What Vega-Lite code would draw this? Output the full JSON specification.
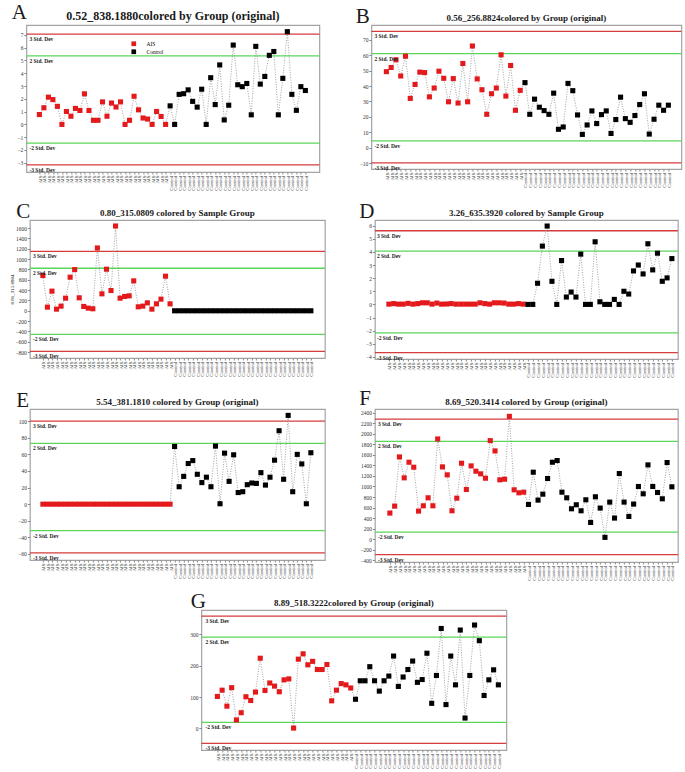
{
"$schema": "https://vega.github.io/schema/vega-lite/v6.json",
"padding": {"left": 5, "top": 2, "right": 0, "bottom": 0},
"spacing": 10,
"center": true,
"vconcat": [
{"hconcat": [
 {"title": {"text": "A", "anchor": "start", "fontSize": 21, "fontWeight": "normal", "offset": -14, "dx": 6},
  "vconcat": [{"width": 293, "height": 147,
   "title": {"text": "0.52_838.1880colored by Group (original)", "fontSize": 12},
   "layer": [
    {"data": {"name": "sdA"}, "mark": {"type": "rule", "strokeWidth": 1.3}, "encoding": {"y": {"field": "v", "type": "quantitative"}, "stroke": {"field": "level", "type": "nominal", "scale": {"domain": ["3","2","-2","-3"], "range": ["#d63c3c","#5ad65a","#5ad65a","#d63c3c"]}, "legend": null}}},
    {"data": {"name": "A"}, "mark": {"type": "line", "strokeDash": [1, 1.5], "strokeWidth": 0.8, "color": "#8a8a8a"}, "encoding": {"x": {"field": "s", "type": "ordinal", "sort": null, "scale": {"type": "point", "padding": 0, "range": [13, 279]}, "axis": {"title": null, "labelExpr": "split(datum.value, ' ')[0]"}}, "y": {"field": "v", "type": "quantitative", "scale": {"domain": [-3.72, 7.77], "nice": false, "zero": false}, "axis": {"title": null, "labelOverlap": false, "tickCount": 40, "values": [-3,-2,-1,0,1,2,3,4,5,6,7]}}}},
    {"data": {"name": "A"}, "mark": {"type": "square", "size": 26, "opacity": 1}, "encoding": {"x": {"field": "s", "type": "ordinal", "sort": null}, "y": {"field": "v", "type": "quantitative"}, "color": {"field": "g", "type": "nominal", "scale": {"domain": ["AIS","Control"], "range": ["#e4191c","#000000"]}, "legend": {"title": null, "orient": "none", "legendX": 105, "legendY": 16}}}},
    {"data": {"name": "sdA"}, "mark": {"type": "text", "align": "left", "baseline": "top", "dx": -10, "dy": 3, "fontSize": 5.5, "fontWeight": "bold", "font": "Liberation Serif", "color": "#222"}, "encoding": {"x": {"datum": "AIS 1", "type": "ordinal"}, "y": {"field": "v", "type": "quantitative"}, "text": {"field": "label"}}}
   ]}]},
 {"title": {"text": "B", "anchor": "start", "fontSize": 21, "fontWeight": "normal", "offset": -14, "dx": 5},
  "vconcat": [{"width": 310, "height": 144,
   "title": {"text": "0.56_256.8824colored by Group (original)", "fontSize": 9},
   "layer": [
    {"data": {"name": "sdB"}, "mark": {"type": "rule", "strokeWidth": 1.3}, "encoding": {"y": {"field": "v", "type": "quantitative"}, "stroke": {"field": "level", "type": "nominal", "scale": {"domain": ["3","2","-2","-3"], "range": ["#d63c3c","#5ad65a","#5ad65a","#d63c3c"]}, "legend": null}}},
    {"data": {"name": "B"}, "mark": {"type": "line", "strokeDash": [1, 1.5], "strokeWidth": 0.8, "color": "#8a8a8a"}, "encoding": {"x": {"field": "s", "type": "ordinal", "sort": null, "scale": {"type": "point", "padding": 0, "range": [15, 297]}, "axis": {"title": null, "labelExpr": "split(datum.value, ' ')[0]"}}, "y": {"field": "v", "type": "quantitative", "scale": {"domain": [-13.7, 79.5], "nice": false, "zero": false}, "axis": {"title": null, "labelOverlap": false, "tickCount": 40, "values": [-10,0,10,20,30,40,50,60,70]}}}},
    {"data": {"name": "B"}, "mark": {"type": "square", "size": 26, "opacity": 1}, "encoding": {"x": {"field": "s", "type": "ordinal", "sort": null}, "y": {"field": "v", "type": "quantitative"}, "color": {"field": "g", "type": "nominal", "scale": {"domain": ["AIS","Control"], "range": ["#e4191c","#000000"]}, "legend": {"title": null, "orient": "none", "legendX": 251, "legendY": 12}}}},
    {"data": {"name": "sdB"}, "mark": {"type": "text", "align": "left", "baseline": "top", "dx": -12, "dy": 3, "fontSize": 5.5, "fontWeight": "bold", "font": "Liberation Serif", "color": "#222"}, "encoding": {"x": {"datum": "AIS 1", "type": "ordinal"}, "y": {"field": "v", "type": "quantitative"}, "text": {"field": "label"}}}
   ]}]}
], "spacing": 29},
{"hconcat": [
 {"title": {"text": "C", "anchor": "start", "fontSize": 21, "fontWeight": "normal", "offset": -14, "dx": 7},
  "vconcat": [{"width": 295, "height": 138,
   "title": {"text": "0.80_315.0809 colored by Sample Group", "fontSize": 9},
   "layer": [
    {"data": {"name": "sdC"}, "mark": {"type": "rule", "strokeWidth": 1.3}, "encoding": {"y": {"field": "v", "type": "quantitative"}, "stroke": {"field": "level", "type": "nominal", "scale": {"domain": ["3","2","-2","-3"], "range": ["#d63c3c","#5ad65a","#5ad65a","#d63c3c"]}, "legend": null}}},
    {"data": {"name": "C"}, "mark": {"type": "line", "strokeDash": [1, 1.5], "strokeWidth": 0.8, "color": "#8a8a8a"}, "encoding": {"x": {"field": "s", "type": "ordinal", "sort": null, "scale": {"type": "point", "padding": 0, "range": [13, 281]}, "axis": {"title": null, "labelExpr": "split(datum.value, ' ')[0]"}}, "y": {"field": "v", "type": "quantitative", "scale": {"domain": [-913, 1756], "nice": false, "zero": false}, "axis": {"title": "0.81_315.0804", "labelOverlap": false, "tickCount": 40, "titleFontSize": 5, "titleFont": "Liberation Serif", "titleFontWeight": "normal", "titlePadding": 1, "minExtent": 14, "maxExtent": 14, "values": [-800,-600,-400,-200,0,200,400,600,800,1000,1200,1400,1600]}}}},
    {"data": {"name": "C"}, "mark": {"type": "square", "size": 26, "opacity": 1}, "encoding": {"x": {"field": "s", "type": "ordinal", "sort": null}, "y": {"field": "v", "type": "quantitative"}, "color": {"field": "g", "type": "nominal", "scale": {"domain": ["AIS","Control"], "range": ["#e4191c","#000000"]}, "legend": {"title": null, "orient": "none", "legendX": 219, "legendY": 9}}}},
    {"data": {"name": "sdC"}, "mark": {"type": "text", "align": "left", "baseline": "top", "dx": -10, "dy": 3, "fontSize": 5.5, "fontWeight": "bold", "font": "Liberation Serif", "color": "#222"}, "encoding": {"x": {"datum": "AIS 1", "type": "ordinal"}, "y": {"field": "v", "type": "quantitative"}, "text": {"field": "label"}}}
   ]}]},
 {"title": {"text": "D", "anchor": "start", "fontSize": 21, "fontWeight": "normal", "offset": -14, "dx": 5},
  "vconcat": [{"width": 303, "height": 139,
   "title": {"text": "3.26_635.3920 colored by Sample Group", "fontSize": 9},
   "layer": [
    {"data": {"name": "sdD"}, "mark": {"type": "rule", "strokeWidth": 1.3}, "encoding": {"y": {"field": "v", "type": "quantitative"}, "stroke": {"field": "level", "type": "nominal", "scale": {"domain": ["3","2","-2","-3"], "range": ["#d63c3c","#5ad65a","#5ad65a","#d63c3c"]}, "legend": null}}},
    {"data": {"name": "D"}, "mark": {"type": "line", "strokeDash": [1, 1.5], "strokeWidth": 0.8, "color": "#8a8a8a"}, "encoding": {"x": {"field": "s", "type": "ordinal", "sort": null, "scale": {"type": "point", "padding": 0, "range": [14, 297]}, "axis": {"title": null, "labelExpr": "split(datum.value, ' ')[0]"}}, "y": {"field": "v", "type": "quantitative", "scale": {"domain": [-4.16, 6.43], "nice": false, "zero": false}, "axis": {"title": null, "labelOverlap": false, "tickCount": 40, "values": [-4,-3,-2,-1,0,1,2,3,4,5,6]}}}},
    {"data": {"name": "D"}, "mark": {"type": "square", "size": 26, "opacity": 1}, "encoding": {"x": {"field": "s", "type": "ordinal", "sort": null}, "y": {"field": "v", "type": "quantitative"}, "color": {"field": "g", "type": "nominal", "scale": {"domain": ["AIS","Control"], "range": ["#e4191c","#000000"]}, "legend": {"title": null, "orient": "none", "legendX": 98, "legendY": 14}}}},
    {"data": {"name": "sdD"}, "mark": {"type": "text", "align": "left", "baseline": "top", "dx": -12, "dy": 3, "fontSize": 5.5, "fontWeight": "bold", "font": "Liberation Serif", "color": "#222"}, "encoding": {"x": {"datum": "AIS 1", "type": "ordinal"}, "y": {"field": "v", "type": "quantitative"}, "text": {"field": "label"}}}
   ]}]}
], "spacing": 27},
{"hconcat": [
 {"title": {"text": "E", "anchor": "start", "fontSize": 21, "fontWeight": "normal", "offset": -14, "dx": 7},
  "vconcat": [{"width": 295, "height": 151,
   "title": {"text": "5.54_381.1810 colored by Group (original)", "fontSize": 9},
   "layer": [
    {"data": {"name": "sdE"}, "mark": {"type": "rule", "strokeWidth": 1.3}, "encoding": {"y": {"field": "v", "type": "quantitative"}, "stroke": {"field": "level", "type": "nominal", "scale": {"domain": ["3","2","-2","-3"], "range": ["#d63c3c","#5ad65a","#5ad65a","#d63c3c"]}, "legend": null}}},
    {"data": {"name": "E"}, "mark": {"type": "line", "strokeDash": [1, 1.5], "strokeWidth": 0.8, "color": "#8a8a8a"}, "encoding": {"x": {"field": "s", "type": "ordinal", "sort": null, "scale": {"type": "point", "padding": 0, "range": [13, 281]}, "axis": {"title": null, "labelExpr": "split(datum.value, ' ')[0]"}}, "y": {"field": "v", "type": "quantitative", "scale": {"domain": [-67.3, 114.7], "nice": false, "zero": false}, "axis": {"title": null, "labelOverlap": false, "tickCount": 40, "values": [-60,-40,-20,0,20,40,60,80,100]}}}},
    {"data": {"name": "E"}, "mark": {"type": "square", "size": 26, "opacity": 1}, "encoding": {"x": {"field": "s", "type": "ordinal", "sort": null}, "y": {"field": "v", "type": "quantitative"}, "color": {"field": "g", "type": "nominal", "scale": {"domain": ["AIS","Control"], "range": ["#e4191c","#000000"]}, "legend": {"title": null, "orient": "none", "legendX": 95, "legendY": 18}}}},
    {"data": {"name": "sdE"}, "mark": {"type": "text", "align": "left", "baseline": "top", "dx": -10, "dy": 3, "fontSize": 5.5, "fontWeight": "bold", "font": "Liberation Serif", "color": "#222"}, "encoding": {"x": {"datum": "AIS 1", "type": "ordinal"}, "y": {"field": "v", "type": "quantitative"}, "text": {"field": "label"}}}
   ]}]},
 {"title": {"text": "F", "anchor": "start", "fontSize": 21, "fontWeight": "normal", "offset": -12, "dx": 5},
  "vconcat": [{"width": 303, "height": 153,
   "title": {"text": "8.69_520.3414 colored by Group (original)", "fontSize": 9},
   "layer": [
    {"data": {"name": "sdF"}, "mark": {"type": "rule", "strokeWidth": 1.3}, "encoding": {"y": {"field": "v", "type": "quantitative"}, "stroke": {"field": "level", "type": "nominal", "scale": {"domain": ["3","2","-2","-3"], "range": ["#d63c3c","#5ad65a","#5ad65a","#d63c3c"]}, "legend": null}}},
    {"data": {"name": "F"}, "mark": {"type": "line", "strokeDash": [1, 1.5], "strokeWidth": 0.8, "color": "#8a8a8a"}, "encoding": {"x": {"field": "s", "type": "ordinal", "sort": null, "scale": {"type": "point", "padding": 0, "range": [15, 297]}, "axis": {"title": null, "labelExpr": "split(datum.value, ' ')[0]"}}, "y": {"field": "v", "type": "quantitative", "scale": {"domain": [-437, 2475], "nice": false, "zero": false}, "axis": {"title": null, "labelOverlap": false, "tickCount": 40, "values": [-400,-200,0,200,400,600,800,1000,1200,1400,1600,1800,2000,2200,2400]}}}},
    {"data": {"name": "F"}, "mark": {"type": "square", "size": 26, "opacity": 1}, "encoding": {"x": {"field": "s", "type": "ordinal", "sort": null}, "y": {"field": "v", "type": "quantitative"}, "color": {"field": "g", "type": "nominal", "scale": {"domain": ["AIS","Control"], "range": ["#e4191c","#000000"]}, "legend": {"title": null, "orient": "none", "legendX": 244, "legendY": 15}}}},
    {"data": {"name": "sdF"}, "mark": {"type": "text", "align": "left", "baseline": "top", "dx": -12, "dy": 3, "fontSize": 5.5, "fontWeight": "bold", "font": "Liberation Serif", "color": "#222"}, "encoding": {"x": {"datum": "AIS 1", "type": "ordinal"}, "y": {"field": "v", "type": "quantitative"}, "text": {"field": "label"}}}
   ]}]}
], "spacing": 27},
{"title": {"text": "G", "anchor": "start", "fontSize": 21, "fontWeight": "normal", "offset": -14, "dx": 10},
  "vconcat": [{"width": 305, "height": 140,
   "title": {"text": "8.89_518.3222colored by Group (original)", "fontSize": 9},
   "layer": [
    {"data": {"name": "sdG"}, "mark": {"type": "rule", "strokeWidth": 1.3}, "encoding": {"y": {"field": "v", "type": "quantitative"}, "stroke": {"field": "level", "type": "nominal", "scale": {"domain": ["3","2","-2","-3"], "range": ["#d63c3c","#5ad65a","#5ad65a","#d63c3c"]}, "legend": null}}},
    {"data": {"name": "G"}, "mark": {"type": "line", "strokeDash": [1, 1.5], "strokeWidth": 0.8, "color": "#8a8a8a"}, "encoding": {"x": {"field": "s", "type": "ordinal", "sort": null, "scale": {"type": "point", "padding": 0, "range": [16, 297]}, "axis": {"title": null, "labelExpr": "split(datum.value, ' ')[0]"}}, "y": {"field": "v", "type": "quantitative", "scale": {"domain": [-69, 378], "nice": false, "zero": false}, "axis": {"title": null, "labelOverlap": false, "tickCount": 40, "values": [0,100,200,300]}}}},
    {"data": {"name": "G"}, "mark": {"type": "square", "size": 26, "opacity": 1}, "encoding": {"x": {"field": "s", "type": "ordinal", "sort": null}, "y": {"field": "v", "type": "quantitative"}, "color": {"field": "g", "type": "nominal", "scale": {"domain": ["AIS","Control"], "range": ["#e4191c","#000000"]}, "legend": {"title": null, "orient": "none", "legendX": 115, "legendY": 10}}}},
    {"data": {"name": "sdG"}, "mark": {"type": "text", "align": "left", "baseline": "top", "dx": -12, "dy": 3, "fontSize": 5.5, "fontWeight": "bold", "font": "Liberation Serif", "color": "#222"}, "encoding": {"x": {"datum": "AIS 1", "type": "ordinal"}, "y": {"field": "v", "type": "quantitative"}, "text": {"field": "label"}}}
   ]}]}
],
"datasets": {
"sdA": [{"level":"3","label":"3 Std. Dev","v":7.05},{"level":"2","label":"2 Std. Dev","v":5.35},{"level":"-2","label":"-2 Std. Dev","v":-1.46},{"level":"-3","label":"-3 Std. Dev","v":-3.16}],
"sdB": [{"level":"3","label":"3 Std. Dev","v":75.4},{"level":"2","label":"2 Std. Dev","v":61},{"level":"-2","label":"-2 Std. Dev","v":4.5},{"level":"-3","label":"-3 Std. Dev","v":-9.8}],
"sdC": [{"level":"3","label":"3 Std. Dev","v":1151},{"level":"2","label":"2 Std. Dev","v":823},{"level":"-2","label":"-2 Std. Dev","v":-457},{"level":"-3","label":"-3 Std. Dev","v":-785}],
"sdD": [{"level":"3","label":"3 Std. Dev","v":5.61},{"level":"2","label":"2 Std. Dev","v":4.06},{"level":"-2","label":"-2 Std. Dev","v":-2.17},{"level":"-3","label":"-3 Std. Dev","v":-3.67}],
"sdE": [{"level":"3","label":"3 Std. Dev","v":100},{"level":"2","label":"2 Std. Dev","v":73.3},{"level":"-2","label":"-2 Std. Dev","v":-31.9},{"level":"-3","label":"-3 Std. Dev","v":-58.6}],
"sdF": [{"level":"3","label":"3 Std. Dev","v":2284},{"level":"2","label":"2 Std. Dev","v":1860},{"level":"-2","label":"-2 Std. Dev","v":133},{"level":"-3","label":"-3 Std. Dev","v":-297}],
"sdG": [{"level":"3","label":"3 Std. Dev","v":358.5},{"level":"2","label":"2 Std. Dev","v":291.5},{"level":"-2","label":"-2 Std. Dev","v":19},{"level":"-3","label":"-3 Std. Dev","v":-48}],
"A": [
{"s":"AIS 1","g":"AIS","v":0.77},{"s":"AIS 2","g":"AIS","v":1.3},{"s":"AIS 3","g":"AIS","v":2.13},{"s":"AIS 4","g":"AIS","v":1.94},{"s":"AIS 5","g":"AIS","v":1.41},{"s":"AIS 6","g":"AIS","v":0},{"s":"AIS 7","g":"AIS","v":1.01},{"s":"AIS 8","g":"AIS","v":0.64},{"s":"AIS 9","g":"AIS","v":1.25},{"s":"AIS 10","g":"AIS","v":1.09},
{"s":"AIS 11","g":"AIS","v":2.39},{"s":"AIS 12","g":"AIS","v":1.09},{"s":"AIS 13","g":"AIS","v":0.32},{"s":"AIS 14","g":"AIS","v":0.32},{"s":"AIS 15","g":"AIS","v":1.76},{"s":"AIS 16","g":"AIS","v":0.64},{"s":"AIS 17","g":"AIS","v":1.67},{"s":"AIS 18","g":"AIS","v":1.36},{"s":"AIS 19","g":"AIS","v":1.76},{"s":"AIS 20","g":"AIS","v":0},
{"s":"AIS 21","g":"AIS","v":0.32},{"s":"AIS 22","g":"AIS","v":2.2},{"s":"AIS 23","g":"AIS","v":1.14},{"s":"AIS 24","g":"AIS","v":0.5},{"s":"AIS 25","g":"AIS","v":0.42},{"s":"AIS 26","g":"AIS","v":0},{"s":"AIS 27","g":"AIS","v":1.01},{"s":"AIS 28","g":"AIS","v":0.62},{"s":"AIS 29","g":"AIS","v":0},
{"s":"Control 1","g":"Control","v":1.45},{"s":"Control 2","g":"Control","v":0},{"s":"Control 3","g":"Control","v":2.35},{"s":"Control 4","g":"Control","v":2.4},{"s":"Control 5","g":"Control","v":2.7},{"s":"Control 6","g":"Control","v":1.8},{"s":"Control 7","g":"Control","v":1.35},{"s":"Control 8","g":"Control","v":2.75},{"s":"Control 9","g":"Control","v":0},{"s":"Control 10","g":"Control","v":3.65},
{"s":"Control 11","g":"Control","v":1.55},{"s":"Control 12","g":"Control","v":4.65},{"s":"Control 13","g":"Control","v":0.35},{"s":"Control 14","g":"Control","v":1.5},{"s":"Control 15","g":"Control","v":6.2},{"s":"Control 16","g":"Control","v":3.1},{"s":"Control 17","g":"Control","v":2.95},{"s":"Control 18","g":"Control","v":3.2},{"s":"Control 19","g":"Control","v":0.75},{"s":"Control 20","g":"Control","v":6.1},
{"s":"Control 21","g":"Control","v":3.15},{"s":"Control 22","g":"Control","v":3.75},{"s":"Control 23","g":"Control","v":5.4},{"s":"Control 24","g":"Control","v":5.7},{"s":"Control 25","g":"Control","v":0.75},{"s":"Control 26","g":"Control","v":3.6},{"s":"Control 27","g":"Control","v":7.25},{"s":"Control 28","g":"Control","v":2.35},{"s":"Control 29","g":"Control","v":1.1},{"s":"Control 30","g":"Control","v":2.95},{"s":"Control 31","g":"Control","v":2.65}
],
"B": [
{"s":"AIS 1","g":"AIS","v":49.3},{"s":"AIS 2","g":"AIS","v":52},{"s":"AIS 3","g":"AIS","v":57},{"s":"AIS 4","g":"AIS","v":46.5},{"s":"AIS 5","g":"AIS","v":59.3},{"s":"AIS 6","g":"AIS","v":32},{"s":"AIS 7","g":"AIS","v":41},{"s":"AIS 8","g":"AIS","v":49},{"s":"AIS 9","g":"AIS","v":48.7},{"s":"AIS 10","g":"AIS","v":33},
{"s":"AIS 11","g":"AIS","v":38.7},{"s":"AIS 12","g":"AIS","v":49.6},{"s":"AIS 13","g":"AIS","v":45},{"s":"AIS 14","g":"AIS","v":29.8},{"s":"AIS 15","g":"AIS","v":44.8},{"s":"AIS 16","g":"AIS","v":29},{"s":"AIS 17","g":"AIS","v":54.6},{"s":"AIS 18","g":"AIS","v":29.8},{"s":"AIS 19","g":"AIS","v":65.9},{"s":"AIS 20","g":"AIS","v":44.6},
{"s":"AIS 21","g":"AIS","v":37.6},{"s":"AIS 22","g":"AIS","v":21.7},{"s":"AIS 23","g":"AIS","v":35},{"s":"AIS 24","g":"AIS","v":38.7},{"s":"AIS 25","g":"AIS","v":60.2},{"s":"AIS 26","g":"AIS","v":33.5},{"s":"AIS 27","g":"AIS","v":53.3},{"s":"AIS 28","g":"AIS","v":24.3},{"s":"AIS 29","g":"AIS","v":37.2},
{"s":"Control 1","g":"Control","v":42.2},{"s":"Control 2","g":"Control","v":21.7},{"s":"Control 3","g":"Control","v":31.5},{"s":"Control 4","g":"Control","v":26.3},{"s":"Control 5","g":"Control","v":24.1},{"s":"Control 6","g":"Control","v":21.7},{"s":"Control 7","g":"Control","v":35.4},{"s":"Control 8","g":"Control","v":12},{"s":"Control 9","g":"Control","v":13.5},{"s":"Control 10","g":"Control","v":41.7},
{"s":"Control 11","g":"Control","v":37},{"s":"Control 12","g":"Control","v":21.3},{"s":"Control 13","g":"Control","v":8.7},{"s":"Control 14","g":"Control","v":14.8},{"s":"Control 15","g":"Control","v":23.9},{"s":"Control 16","g":"Control","v":15.7},{"s":"Control 17","g":"Control","v":21.5},{"s":"Control 18","g":"Control","v":23.9},{"s":"Control 19","g":"Control","v":9.3},{"s":"Control 20","g":"Control","v":18.3},
{"s":"Control 21","g":"Control","v":32.8},{"s":"Control 22","g":"Control","v":18.9},{"s":"Control 23","g":"Control","v":16.5},{"s":"Control 24","g":"Control","v":20.9},{"s":"Control 25","g":"Control","v":28},{"s":"Control 26","g":"Control","v":35},{"s":"Control 27","g":"Control","v":8.9},{"s":"Control 28","g":"Control","v":18.5},{"s":"Control 29","g":"Control","v":27.6},{"s":"Control 30","g":"Control","v":24.3},{"s":"Control 31","g":"Control","v":27.6}
],
"C": [
{"s":"AIS 1","g":"AIS","v":682},{"s":"AIS 2","g":"AIS","v":71},{"s":"AIS 3","g":"AIS","v":380},{"s":"AIS 4","g":"AIS","v":32},{"s":"AIS 5","g":"AIS","v":90},{"s":"AIS 6","g":"AIS","v":244},{"s":"AIS 7","g":"AIS","v":650},{"s":"AIS 8","g":"AIS","v":797},{"s":"AIS 9","g":"AIS","v":251},{"s":"AIS 10","g":"AIS","v":84},
{"s":"AIS 11","g":"AIS","v":51},{"s":"AIS 12","g":"AIS","v":39},{"s":"AIS 13","g":"AIS","v":1215},{"s":"AIS 14","g":"AIS","v":328},{"s":"AIS 15","g":"AIS","v":804},{"s":"AIS 16","g":"AIS","v":392},{"s":"AIS 17","g":"AIS","v":1640},{"s":"AIS 18","g":"AIS","v":244},{"s":"AIS 19","g":"AIS","v":277},{"s":"AIS 20","g":"AIS","v":289},
{"s":"AIS 21","g":"AIS","v":579},{"s":"AIS 22","g":"AIS","v":77},{"s":"AIS 23","g":"AIS","v":90},{"s":"AIS 24","g":"AIS","v":154},{"s":"AIS 25","g":"AIS","v":32},{"s":"AIS 26","g":"AIS","v":135},{"s":"AIS 27","g":"AIS","v":225},{"s":"AIS 28","g":"AIS","v":669},{"s":"AIS 29","g":"AIS","v":135},
{"s":"Control 1","g":"Control","v":0},{"s":"Control 2","g":"Control","v":0},{"s":"Control 3","g":"Control","v":0},{"s":"Control 4","g":"Control","v":0},{"s":"Control 5","g":"Control","v":0},{"s":"Control 6","g":"Control","v":0},{"s":"Control 7","g":"Control","v":0},{"s":"Control 8","g":"Control","v":0},{"s":"Control 9","g":"Control","v":0},{"s":"Control 10","g":"Control","v":0},
{"s":"Control 11","g":"Control","v":0},{"s":"Control 12","g":"Control","v":0},{"s":"Control 13","g":"Control","v":0},{"s":"Control 14","g":"Control","v":0},{"s":"Control 15","g":"Control","v":0},{"s":"Control 16","g":"Control","v":0},{"s":"Control 17","g":"Control","v":0},{"s":"Control 18","g":"Control","v":0},{"s":"Control 19","g":"Control","v":0},{"s":"Control 20","g":"Control","v":0},
{"s":"Control 21","g":"Control","v":0},{"s":"Control 22","g":"Control","v":0},{"s":"Control 23","g":"Control","v":0},{"s":"Control 24","g":"Control","v":0},{"s":"Control 25","g":"Control","v":0},{"s":"Control 26","g":"Control","v":0},{"s":"Control 27","g":"Control","v":0},{"s":"Control 28","g":"Control","v":0},{"s":"Control 29","g":"Control","v":0},{"s":"Control 30","g":"Control","v":0},{"s":"Control 31","g":"Control","v":0}
],
"D": [
{"s":"AIS 1","g":"AIS","v":0.02},{"s":"AIS 2","g":"AIS","v":0.06},{"s":"AIS 3","g":"AIS","v":0.02},{"s":"AIS 4","g":"AIS","v":0.02},{"s":"AIS 5","g":"AIS","v":0.08},{"s":"AIS 6","g":"AIS","v":0.02},{"s":"AIS 7","g":"AIS","v":0.06},{"s":"AIS 8","g":"AIS","v":0.12},{"s":"AIS 9","g":"AIS","v":0.12},{"s":"AIS 10","g":"AIS","v":0.02},
{"s":"AIS 11","g":"AIS","v":0.1},{"s":"AIS 12","g":"AIS","v":0.02},{"s":"AIS 13","g":"AIS","v":0.03},{"s":"AIS 14","g":"AIS","v":0.06},{"s":"AIS 15","g":"AIS","v":0.02},{"s":"AIS 16","g":"AIS","v":0.02},{"s":"AIS 17","g":"AIS","v":0.02},{"s":"AIS 18","g":"AIS","v":0.02},{"s":"AIS 19","g":"AIS","v":0.02},{"s":"AIS 20","g":"AIS","v":0.12},
{"s":"AIS 21","g":"AIS","v":0.06},{"s":"AIS 22","g":"AIS","v":0.02},{"s":"AIS 23","g":"AIS","v":0.12},{"s":"AIS 24","g":"AIS","v":0.12},{"s":"AIS 25","g":"AIS","v":0.1},{"s":"AIS 26","g":"AIS","v":0.02},{"s":"AIS 27","g":"AIS","v":0.02},{"s":"AIS 28","g":"AIS","v":0.06},{"s":"AIS 29","g":"AIS","v":0.02},
{"s":"Control 1","g":"Control","v":0},{"s":"Control 2","g":"Control","v":0},{"s":"Control 3","g":"Control","v":1.61},{"s":"Control 4","g":"Control","v":4.44},{"s":"Control 5","g":"Control","v":5.97},{"s":"Control 6","g":"Control","v":1.76},{"s":"Control 7","g":"Control","v":0},{"s":"Control 8","g":"Control","v":3.34},{"s":"Control 9","g":"Control","v":0.56},{"s":"Control 10","g":"Control","v":0.94},
{"s":"Control 11","g":"Control","v":0.56},{"s":"Control 12","g":"Control","v":3.83},{"s":"Control 13","g":"Control","v":0},{"s":"Control 14","g":"Control","v":0},{"s":"Control 15","g":"Control","v":4.77},{"s":"Control 16","g":"Control","v":0.2},{"s":"Control 17","g":"Control","v":0},{"s":"Control 18","g":"Control","v":0},{"s":"Control 19","g":"Control","v":0.38},{"s":"Control 20","g":"Control","v":0},
{"s":"Control 21","g":"Control","v":1.0},{"s":"Control 22","g":"Control","v":0.79},{"s":"Control 23","g":"Control","v":2.55},{"s":"Control 24","g":"Control","v":3.0},{"s":"Control 25","g":"Control","v":2.32},{"s":"Control 26","g":"Control","v":4.62},{"s":"Control 27","g":"Control","v":2.63},{"s":"Control 28","g":"Control","v":3.9},{"s":"Control 29","g":"Control","v":1.76},{"s":"Control 30","g":"Control","v":2.02},{"s":"Control 31","g":"Control","v":3.49}
],
"E": [
{"s":"AIS 1","g":"AIS","v":0},{"s":"AIS 2","g":"AIS","v":0},{"s":"AIS 3","g":"AIS","v":0},{"s":"AIS 4","g":"AIS","v":0},{"s":"AIS 5","g":"AIS","v":0},{"s":"AIS 6","g":"AIS","v":0},{"s":"AIS 7","g":"AIS","v":0},{"s":"AIS 8","g":"AIS","v":0},{"s":"AIS 9","g":"AIS","v":0},{"s":"AIS 10","g":"AIS","v":0},
{"s":"AIS 11","g":"AIS","v":0},{"s":"AIS 12","g":"AIS","v":0},{"s":"AIS 13","g":"AIS","v":0},{"s":"AIS 14","g":"AIS","v":0},{"s":"AIS 15","g":"AIS","v":0},{"s":"AIS 16","g":"AIS","v":0},{"s":"AIS 17","g":"AIS","v":0},{"s":"AIS 18","g":"AIS","v":0},{"s":"AIS 19","g":"AIS","v":0},{"s":"AIS 20","g":"AIS","v":0},
{"s":"AIS 21","g":"AIS","v":0},{"s":"AIS 22","g":"AIS","v":0},{"s":"AIS 23","g":"AIS","v":0},{"s":"AIS 24","g":"AIS","v":0},{"s":"AIS 25","g":"AIS","v":0},{"s":"AIS 26","g":"AIS","v":0},{"s":"AIS 27","g":"AIS","v":0},{"s":"AIS 28","g":"AIS","v":0},{"s":"AIS 29","g":"AIS","v":0},
{"s":"Control 1","g":"Control","v":69.5},{"s":"Control 2","g":"Control","v":21},{"s":"Control 3","g":"Control","v":33.5},{"s":"Control 4","g":"Control","v":49},{"s":"Control 5","g":"Control","v":52.5},{"s":"Control 6","g":"Control","v":36},{"s":"Control 7","g":"Control","v":26},{"s":"Control 8","g":"Control","v":32.5},{"s":"Control 9","g":"Control","v":21},{"s":"Control 10","g":"Control","v":70},
{"s":"Control 11","g":"Control","v":0.5},{"s":"Control 12","g":"Control","v":61.5},{"s":"Control 13","g":"Control","v":27.5},{"s":"Control 14","g":"Control","v":59.5},{"s":"Control 15","g":"Control","v":14},{"s":"Control 16","g":"Control","v":15},{"s":"Control 17","g":"Control","v":23.5},{"s":"Control 18","g":"Control","v":25.5},{"s":"Control 19","g":"Control","v":25},{"s":"Control 20","g":"Control","v":38},
{"s":"Control 21","g":"Control","v":23},{"s":"Control 22","g":"Control","v":32.5},{"s":"Control 23","g":"Control","v":53},{"s":"Control 24","g":"Control","v":88.5},{"s":"Control 25","g":"Control","v":30},{"s":"Control 26","g":"Control","v":107},{"s":"Control 27","g":"Control","v":15},{"s":"Control 28","g":"Control","v":60},{"s":"Control 29","g":"Control","v":48.5},{"s":"Control 30","g":"Control","v":0.5},{"s":"Control 31","g":"Control","v":62}
],
"F": [
{"s":"AIS 1","g":"AIS","v":494},{"s":"AIS 2","g":"AIS","v":627},{"s":"AIS 3","g":"AIS","v":1563},{"s":"AIS 4","g":"AIS","v":1165},{"s":"AIS 5","g":"AIS","v":1462},{"s":"AIS 6","g":"AIS","v":1367},{"s":"AIS 7","g":"AIS","v":532},{"s":"AIS 8","g":"AIS","v":633},{"s":"AIS 9","g":"AIS","v":785},{"s":"AIS 10","g":"AIS","v":633},
{"s":"AIS 11","g":"AIS","v":1905},{"s":"AIS 12","g":"AIS","v":1373},{"s":"AIS 13","g":"AIS","v":1222},{"s":"AIS 14","g":"AIS","v":538},{"s":"AIS 15","g":"AIS","v":778},{"s":"AIS 16","g":"AIS","v":1443},{"s":"AIS 17","g":"AIS","v":943},{"s":"AIS 18","g":"AIS","v":1392},{"s":"AIS 19","g":"AIS","v":1291},{"s":"AIS 20","g":"AIS","v":1241},
{"s":"AIS 21","g":"AIS","v":1158},{"s":"AIS 22","g":"AIS","v":1873},{"s":"AIS 23","g":"AIS","v":1677},{"s":"AIS 24","g":"AIS","v":1127},{"s":"AIS 25","g":"AIS","v":1139},{"s":"AIS 26","g":"AIS","v":2335},{"s":"AIS 27","g":"AIS","v":937},{"s":"AIS 28","g":"AIS","v":880},{"s":"AIS 29","g":"AIS","v":892},
{"s":"Control 1","g":"Control","v":658},{"s":"Control 2","g":"Control","v":1272},{"s":"Control 3","g":"Control","v":741},{"s":"Control 4","g":"Control","v":854},{"s":"Control 5","g":"Control","v":1152},{"s":"Control 6","g":"Control","v":1462},{"s":"Control 7","g":"Control","v":1494},{"s":"Control 8","g":"Control","v":892},{"s":"Control 9","g":"Control","v":785},{"s":"Control 10","g":"Control","v":576},
{"s":"Control 11","g":"Control","v":652},{"s":"Control 12","g":"Control","v":538},{"s":"Control 13","g":"Control","v":747},{"s":"Control 14","g":"Control","v":316},{"s":"Control 15","g":"Control","v":804},{"s":"Control 16","g":"Control","v":589},{"s":"Control 17","g":"Control","v":32},{"s":"Control 18","g":"Control","v":703},{"s":"Control 19","g":"Control","v":399},{"s":"Control 20","g":"Control","v":1247},
{"s":"Control 21","g":"Control","v":703},{"s":"Control 22","g":"Control","v":430},{"s":"Control 23","g":"Control","v":665},{"s":"Control 24","g":"Control","v":1000},{"s":"Control 25","g":"Control","v":861},{"s":"Control 26","g":"Control","v":1411},{"s":"Control 27","g":"Control","v":1000},{"s":"Control 28","g":"Control","v":886},{"s":"Control 29","g":"Control","v":766},{"s":"Control 30","g":"Control","v":1456},{"s":"Control 31","g":"Control","v":994}
],
"G": [
{"s":"AIS 1","g":"AIS","v":102},{"s":"AIS 2","g":"AIS","v":122},{"s":"AIS 3","g":"AIS","v":71},{"s":"AIS 4","g":"AIS","v":130},{"s":"AIS 5","g":"AIS","v":27},{"s":"AIS 6","g":"AIS","v":50},{"s":"AIS 7","g":"AIS","v":101},{"s":"AIS 8","g":"AIS","v":89},{"s":"AIS 9","g":"AIS","v":116},{"s":"AIS 10","g":"AIS","v":224},
{"s":"AIS 11","g":"AIS","v":121},{"s":"AIS 12","g":"AIS","v":145},{"s":"AIS 13","g":"AIS","v":135},{"s":"AIS 14","g":"AIS","v":117},{"s":"AIS 15","g":"AIS","v":155},{"s":"AIS 16","g":"AIS","v":158},{"s":"AIS 17","g":"AIS","v":1},{"s":"AIS 18","g":"AIS","v":221},{"s":"AIS 19","g":"AIS","v":238},{"s":"AIS 20","g":"AIS","v":203},
{"s":"AIS 21","g":"AIS","v":214},{"s":"AIS 22","g":"AIS","v":188},{"s":"AIS 23","g":"AIS","v":188},{"s":"AIS 24","g":"AIS","v":204},{"s":"AIS 25","g":"AIS","v":88},{"s":"AIS 26","g":"AIS","v":122},{"s":"AIS 27","g":"AIS","v":143},{"s":"AIS 28","g":"AIS","v":139},{"s":"AIS 29","g":"AIS","v":129},
{"s":"Control 1","g":"Control","v":93},{"s":"Control 2","g":"Control","v":152},{"s":"Control 3","g":"Control","v":152},{"s":"Control 4","g":"Control","v":197},{"s":"Control 5","g":"Control","v":152},{"s":"Control 6","g":"Control","v":119},{"s":"Control 7","g":"Control","v":152},{"s":"Control 8","g":"Control","v":167},{"s":"Control 9","g":"Control","v":231},{"s":"Control 10","g":"Control","v":134},
{"s":"Control 11","g":"Control","v":164},{"s":"Control 12","g":"Control","v":188},{"s":"Control 13","g":"Control","v":215},{"s":"Control 14","g":"Control","v":147},{"s":"Control 15","g":"Control","v":156},{"s":"Control 16","g":"Control","v":240},{"s":"Control 17","g":"Control","v":80},{"s":"Control 18","g":"Control","v":169},{"s":"Control 19","g":"Control","v":319},{"s":"Control 20","g":"Control","v":76},
{"s":"Control 21","g":"Control","v":231},{"s":"Control 22","g":"Control","v":139},{"s":"Control 23","g":"Control","v":314},{"s":"Control 24","g":"Control","v":33},{"s":"Control 25","g":"Control","v":169},{"s":"Control 26","g":"Control","v":330},{"s":"Control 27","g":"Control","v":280},{"s":"Control 28","g":"Control","v":105},{"s":"Control 29","g":"Control","v":155},{"s":"Control 30","g":"Control","v":187},{"s":"Control 31","g":"Control","v":139}
]
},
"config": {
 "font": "Liberation Serif",
 "view": {"stroke": "#a3a3a3", "strokeWidth": 1.2},
 "title": {"font": "Liberation Serif", "fontSize": 10, "fontWeight": "bold", "offset": 2, "color": "#1a1a1a"},
 "axis": {"labelFont": "Liberation Serif", "labelFontSize": 5.5, "labelColor": "#333333", "tickColor": "#8a8a8a", "tickSize": 2.5, "domain": false, "grid": false, "labelOverlap": false},
 "axisX": {"labelAngle": -90, "labelFontSize": 5, "labelPadding": 1, "tickSize": 2},
 "axisY": {"minExtent": 20, "maxExtent": 20, "labelPadding": 1, "format": "d", "labelFlush": false},
 "legend": {"symbolType": "square", "symbolSize": 22, "labelFontSize": 5.5, "labelFont": "Liberation Serif", "rowPadding": 1, "labelOffset": 10, "padding": 0, "symbolStrokeWidth": 0}
}
}
